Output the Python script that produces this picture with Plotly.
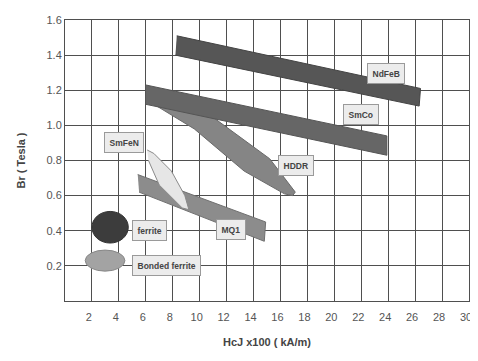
import plotly.graph_objects as go

# ---- data (HcJ x100 kA/m, Br Tesla) ----
ndfeb_x = [8.3, 26.4, 26.3, 8.2]
ndfeb_y = [1.51, 1.21, 1.11, 1.40]

smco_x = [6.0, 23.9, 23.9, 6.0]
smco_y = [1.23, 0.94, 0.83, 1.12]

hddr_x = [6.3, 11.1, 15.2, 17.1, 16.9, 16.3, 13.3, 9.6, 6.6]
hddr_y = [1.20, 1.04, 0.81, 0.62, 0.60, 0.61, 0.74, 0.98, 1.12]

mq1_x = [5.4, 14.9, 14.8, 5.5]
mq1_y = [0.72, 0.45, 0.34, 0.62]

smfen_x = [6.1, 6.6, 7.9, 8.9, 9.2, 8.7, 7.0, 6.2]
smfen_y = [0.86, 0.84, 0.74, 0.60, 0.52, 0.53, 0.66, 0.80]

ferrite_box = [2.0, 4.7, 0.33, 0.51]          # x0, x1, y0, y1
bonded_box = [1.5, 4.45, 0.17, 0.29]

label_names = ["NdFeB", "SmCo", "HDDR", "SmFeN", "MQ1", "ferrite", "Bonded ferrite"]
label_x = [23.8, 21.95, 17.15, 4.35, 12.3, 6.3, 7.5]
label_y = [1.296, 1.063, 0.77, 0.90, 0.407, 0.401, 0.201]

x_ticks = [2, 4, 6, 8, 10, 12, 14, 16, 18, 20, 22, 24, 26, 28, 30]
y_ticks = [0.2, 0.4, 0.6, 0.8, 1.0, 1.2, 1.4, 1.6]
y_tick_text = ["0.2", "0.4", "0.6", "0.8", "1.0", "1.2", "1.4", "1.6"]

fig = go.Figure()

def band(xs, ys, fill, line):
    fig.add_trace(go.Scatter(x=xs, y=ys, fill="toself", fillcolor=fill, mode="lines",
                             line=dict(color=line, width=1), hoverinfo="skip",
                             showlegend=False))

band(hddr_x, hddr_y, "#858585", "#6a6a6a")
band(smco_x, smco_y, "#666666", "#555555")
band(ndfeb_x, ndfeb_y, "#565656", "#444444")
band(mq1_x, mq1_y, "#8c8c8c", "#707070")
band(smfen_x, smfen_y, "#e6e6e6", "#8a8a8a")

fig.add_shape(type="circle", xref="x", yref="y",
              x0=ferrite_box[0], x1=ferrite_box[1], y0=ferrite_box[2], y1=ferrite_box[3],
              fillcolor="#3c3c3c", line=dict(color="#333333", width=1))
fig.add_shape(type="circle", xref="x", yref="y",
              x0=bonded_box[0], x1=bonded_box[1], y0=bonded_box[2], y1=bonded_box[3],
              fillcolor="#a3a3a3", line=dict(color="#888888", width=1))

for name, lx, ly in zip(label_names, label_x, label_y):
    fig.add_annotation(x=lx, y=ly, text="<b>" + name + "</b>", showarrow=False,
                       font=dict(family="Liberation Sans, Arial", size=8.5, color="#444444"),
                       bgcolor="#ececec", bordercolor="#9a9a9a", borderwidth=1, borderpad=4.5)

# the page body adds an 8px offset, so the figure is smaller than the window
fig.update_layout(
    width=470, height=345,
    margin=dict(l=57, r=7, t=6, b=44),
    paper_bgcolor="white", plot_bgcolor="white",
    font=dict(family="Liberation Sans, Arial", size=11, color="#555555"),
)
fig.update_xaxes(range=[0, 30], tickvals=x_ticks, ticktext=[str(v) for v in x_ticks],
                 showgrid=True, gridcolor="#4f4f4f", gridwidth=1, zeroline=False,
                 showline=True, linecolor="#4f4f4f", mirror=True, ticks="",
                 ticklabelstandoff=6, ticklabelshift=-3, ticklabeloverflow="allow",
                 tickfont=dict(size=11, color="#555555"),
                 title=dict(text="<b>HcJ x100 ( kA/m)</b>", font=dict(size=11, color="#444444"),
                            standoff=16))
fig.update_yaxes(range=[0, 1.6], tickvals=y_ticks, ticktext=y_tick_text,
                 showgrid=True, gridcolor="#4f4f4f", gridwidth=1, zeroline=False,
                 showline=True, linecolor="#4f4f4f", mirror=True, ticks="",
                 tickfont=dict(size=11, color="#555555"),
                 title=dict(text="<b>Br ( Tesla )</b>", font=dict(size=11, color="#444444"),
                            standoff=18))

fig.write_html("out.html")
